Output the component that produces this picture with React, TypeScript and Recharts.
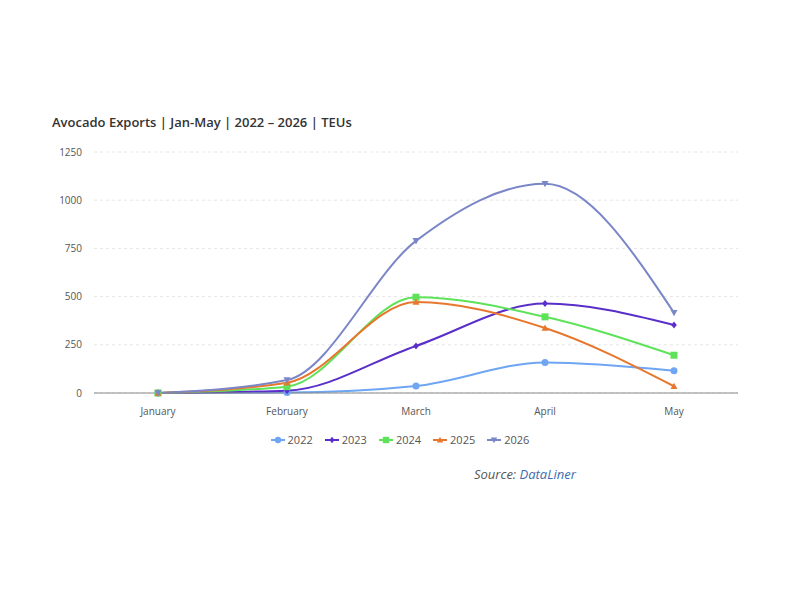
import React from 'react';
import { LineChart, Line, XAxis, YAxis, CartesianGrid } from 'recharts';

// Chart values
const months = ['January', 'February', 'March', 'April', 'May'];
const exports2022 = [0, 2, 36, 158, 115];
const exports2023 = [0, 12, 244, 464, 353];
const exports2024 = [0, 33, 497, 395, 196];
const exports2025 = [0, 53, 472, 337, 35];
const exports2026 = [0, 67, 789, 1085, 416];
const yTicks = [0, 250, 500, 750, 1000, 1250];

type MarkerShape = 'circle' | 'diamond' | 'square' | 'triangle' | 'triangleDown';

const seriesList: { key: string; name: string; color: string; shape: MarkerShape }[] = [
  { key: 's2022', name: '2022', color: '#6ea6f4', shape: 'circle' },
  { key: 's2023', name: '2023', color: '#5a2ec8', shape: 'diamond' },
  { key: 's2024', name: '2024', color: '#5ee25a', shape: 'square' },
  { key: 's2025', name: '2025', color: '#e8772e', shape: 'triangle' },
  { key: 's2026', name: '2026', color: '#7a86c7', shape: 'triangleDown' },
];

const chartData = months.map((month, i) => ({
  month,
  s2022: exports2022[i],
  s2023: exports2023[i],
  s2024: exports2024[i],
  s2025: exports2025[i],
  s2026: exports2026[i],
}));

const FONT = '"Open Sans", "Noto Sans", sans-serif';

// Small marker glyph drawn around a center point
const Marker = ({ cx, cy, shape, color, r = 3.5 }: { cx: number; cy: number; shape: MarkerShape; color: string; r?: number }) => {
  if (shape === 'circle') return <circle cx={cx} cy={cy} r={r} fill={color} />;
  if (shape === 'square') return <rect x={cx - r} y={cy - r} width={r * 2} height={r * 2} fill={color} />;
  if (shape === 'diamond')
    return <polygon points={`${cx},${cy - r} ${cx + r * 0.8},${cy} ${cx},${cy + r} ${cx - r * 0.8},${cy}`} fill={color} />;
  if (shape === 'triangle')
    return <polygon points={`${cx},${cy - r} ${cx + r},${cy + r * 0.8} ${cx - r},${cy + r * 0.8}`} fill={color} />;
  return <polygon points={`${cx},${cy + r} ${cx + r},${cy - r * 0.8} ${cx - r},${cy - r * 0.8}`} fill={color} />;
};

const ChartLegend = () => (
  <div
    style={{
      position: 'absolute', left: 0, top: 432, width: 800,
      display: 'flex', justifyContent: 'center', gap: 12, fontFamily: FONT, fontSize: 11, color: '#555',
    }}
  >
    {seriesList.map((s) => (
      <div key={s.key} style={{ display: 'flex', alignItems: 'center', gap: 3 }}>
        <svg width={14} height={10}>
          <line x1={0} y1={5} x2={14} y2={5} stroke={s.color} strokeWidth={2} />
          <Marker cx={7} cy={5} shape={s.shape} color={s.color} r={3.2} />
        </svg>
        <span>{s.name}</span>
      </div>
    ))}
  </div>
);

export default function App() {
  return (
    <div style={{ position: 'absolute', left: 0, top: 0, width: 800, height: 600, background: '#fff', fontFamily: FONT }}>
      <div style={{ position: 'absolute', left: 52, top: 113, fontSize: 13, fontWeight: 600, color: '#333' }}>
        Avocado Exports | Jan-May | 2022 – 2026 | TEUs
      </div>
      <LineChart
        width={800}
        height={600}
        data={chartData}
        margin={{ top: 152, right: 62, bottom: 177, left: 54 }}
      >
        <CartesianGrid stroke="#e6e6e6" strokeDasharray="3 3" vertical={false} />
        <XAxis
          dataKey="month"
          height={30}
          padding={{ left: 64, right: 64 }}
          tickLine={false}
          axisLine={{ stroke: '#888' }}
          tickMargin={9}
          tick={{ fontSize: 10, fill: '#555', fontFamily: FONT }}
        />
        <YAxis
          width={40}
          domain={[0, 1250]}
          ticks={yTicks}
          axisLine={false}
          tickLine={false}
          tickMargin={6}
          tick={{ fontSize: 10, fill: '#555', fontFamily: FONT }}
        />
        {seriesList.map((s) => (
          <Line
            key={s.key}
            type="monotone"
            dataKey={s.key}
            name={s.name}
            stroke={s.color}
            strokeWidth={2}
            isAnimationActive={false}
            dot={(p: any) => <Marker key={`${s.key}-${p.index}`} cx={p.cx} cy={p.cy} shape={s.shape} color={s.color} />}
            activeDot={false}
          />
        ))}
      </LineChart>
      <ChartLegend />
      <div style={{ position: 'absolute', left: 474, top: 465, fontSize: 13, fontStyle: 'italic', color: '#555' }}>
        Source: <span style={{ color: '#3b6db3' }}>DataLiner</span>
      </div>
    </div>
  );
}
